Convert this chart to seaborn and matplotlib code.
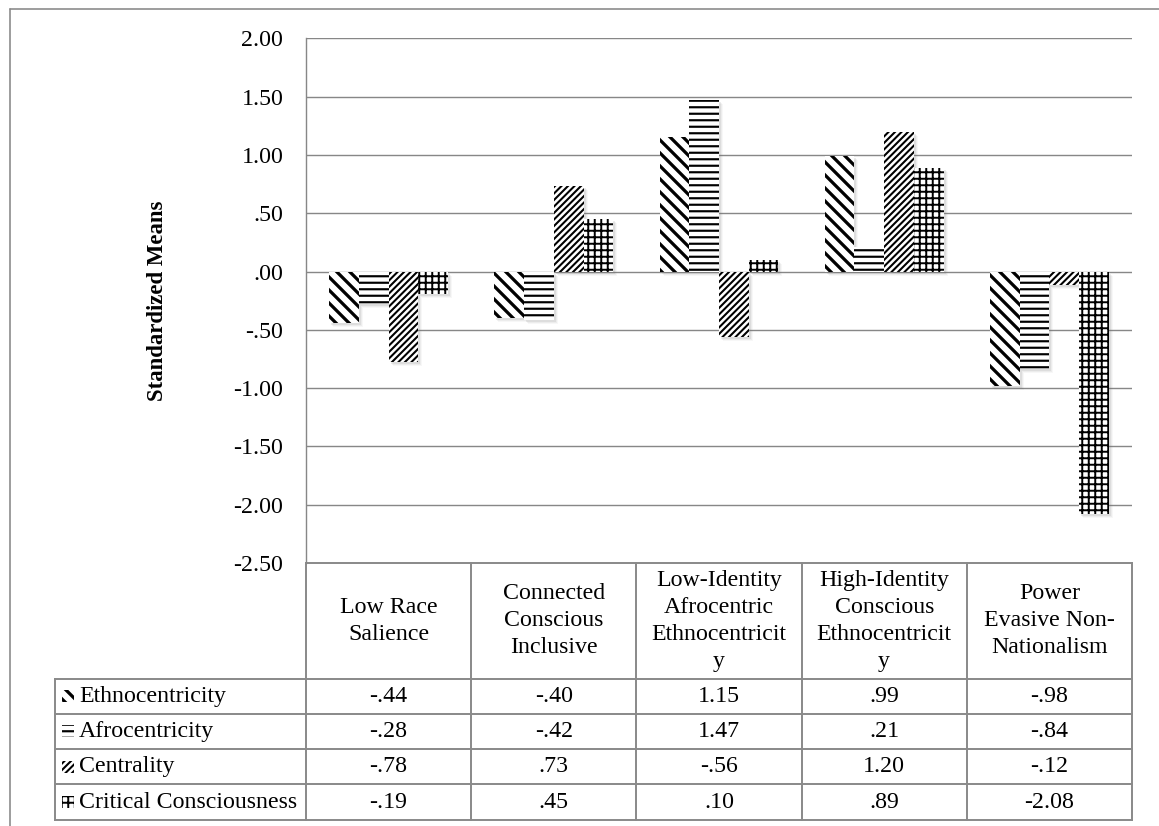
import numpy as np
import pandas as pd
import matplotlib
matplotlib.use("Agg")
import matplotlib.pyplot as plt
import seaborn as sns
from matplotlib.lines import Line2D
from matplotlib.patches import Rectangle
from matplotlib.patheffects import AbstractPathEffect, Normal
from matplotlib.transforms import Affine2D

# ---- data -------------------------------------------------------------
profiles = [
    "Low Race\nSalience",
    "Connected\nConscious\nInclusive",
    "Low-Identity\nAfrocentric\nEthnocentricit\ny",
    "High-Identity\nConscious\nEthnocentricit\ny",
    "Power\nEvasive Non-\nNationalism",
]
series = ["Ethnocentricity", "Afrocentricity", "Centrality", "Critical Consciousness"]
ethnocentricity = [-0.44, -0.40, 1.15, 0.99, -0.98]
afrocentricity = [-0.28, -0.42, 1.47, 0.21, -0.84]
centrality = [-0.78, 0.73, -0.56, 1.20, -0.12]
critical_consciousness = [-0.19, 0.45, 0.10, 0.89, -2.08]
y_ticks = [2.0, 1.5, 1.0, 0.5, 0.0, -0.5, -1.0, -1.5, -2.0, -2.5]
hatches = ["\\\\", "--", "////", "++"]
hatch_widths = [3.0, 2.0, 1.9, 1.8]

values = [ethnocentricity, afrocentricity, centrality, critical_consciousness]
df = pd.concat(
    [pd.DataFrame({"profile": profiles, "series": name, "value": vals})
     for name, vals in zip(series, values)],
    ignore_index=True,
)


def fmt(v):
    s = f"{v:.2f}"
    if abs(v) < 1:
        s = s.replace("0.", ".", 1)
    return s


# ---- figure setup -------------------------------------------------------
W, H, DPI = 1159, 826, 78
FS = 22
GRID = "#878787"
BORDER = "#8a8a8a"

sns.set_theme(style="white")
plt.rcParams["font.family"] = ["Liberation Serif", "DejaVu Serif"]
plt.rcParams["hatch.linewidth"] = 1.9
plt.rcParams["text.color"] = "black"

fig = plt.figure(figsize=(W / DPI, H / DPI), dpi=DPI)
fig.patch.set_facecolor("white")

ax_l, ax_r, ax_t, ax_b = 306, 1132, 38.3, 563
ax = fig.add_axes([ax_l / W, 1 - ax_b / H, (ax_r - ax_l) / W, (ax_b - ax_t) / H])
ax.set_facecolor("white")


class SoftShadow(AbstractPathEffect):
    """Un-hatched grey drop shadow drawn beneath a patch."""

    def __init__(self, layers):
        super().__init__()
        self.layers = layers

    def draw_path(self, renderer, gc, tpath, affine, rgbFace=None):
        for dx, dy, alpha in self.layers:
            gc0 = renderer.new_gc()
            gc0.copy_properties(gc)
            gc0.set_hatch(None)
            gc0.set_linewidth(0)
            gc0.set_alpha(alpha)
            renderer.draw_path(gc0, tpath, affine + Affine2D().translate(dx, dy),
                               (0.45, 0.45, 0.45))
            gc0.restore()


def style_patch(patch, hatch, hw):
    patch.set_hatch(hatch)
    patch.set_facecolor("white")
    patch.set_edgecolor("black")
    patch.set_linewidth(0)
    if hasattr(patch, "set_hatch_linewidth"):
        patch.set_hatch_linewidth(hw)


sns.barplot(
    data=df, x="profile", y="value", hue="series",
    order=profiles, hue_order=series,
    palette=["white"] * len(series), saturation=1,
    edgecolor="black", linewidth=0, width=0.72,
    legend=False, ax=ax,
)

shadow = [SoftShadow([(4, -4, 0.05), (3, -3, 0.08), (2, -2, 0.12)]), Normal()]
for container, hatch, hw in zip(ax.containers, hatches, hatch_widths):
    for bar in container:
        style_patch(bar, hatch, hw)
        bar.set_path_effects(shadow)

ax.set_xlim(-0.5, len(profiles) - 0.5)
ax.set_ylim(-2.5, 2.0)
ax.set_yticks(y_ticks)
ax.set_yticklabels([fmt(v) for v in y_ticks])
ax.yaxis.grid(True, color=GRID, linewidth=1.3)
ax.xaxis.grid(False)
ax.set_axisbelow(True)
for side in ["top", "right", "bottom"]:
    ax.spines[side].set_visible(False)
ax.spines["left"].set_color(GRID)
ax.spines["left"].set_linewidth(1.3)
ax.tick_params(axis="y", length=0, pad=21, labelsize=FS, colors="black")
ax.tick_params(axis="x", length=0, labelbottom=False)
ax.set_xlabel("")
ax.set_ylabel("")
ax.text(-0.18, 0.5, "Standardized Means", transform=ax.transAxes,
        rotation=90, ha="center", va="center", fontsize=FS - 1, fontweight="bold")

# ---- data table beneath the plot ---------------------------------------
ax_w = ax_r - ax_l
ax_h = ax_b - ax_t
n = len(profiles)
legend_left = (55 - ax_l) / ax_w
header_bottom = (ax_b - 678.5) / ax_h
row_h = 35.3 / ax_h
table_bottom = header_bottom - len(series) * row_h

line_kw = dict(transform=ax.transAxes, color=BORDER, linewidth=1.8,
               clip_on=False, solid_capstyle="projecting")

ax.add_line(Line2D([0, 1], [0, 0], **line_kw))
for k in range(len(series) + 1):
    y = header_bottom - k * row_h
    ax.add_line(Line2D([legend_left, 1], [y, y], **line_kw))
ax.add_line(Line2D([legend_left, legend_left], [header_bottom, table_bottom], **line_kw))
for i in range(n + 1):
    ax.add_line(Line2D([i / n, i / n], [0, table_bottom], **line_kw))

for i, name in enumerate(profiles):
    ax.text((i + 0.5) / n, header_bottom / 2, name, transform=ax.transAxes,
            ha="center", va="center", fontsize=FS, linespacing=1.38)

icon_x = (62 - ax_l) / ax_w
icon_w = 12 / ax_w
icon_h = 12 / ax_h
text_x = (79 - ax_l) / ax_w
for r, (name, vals, hatch, hw) in enumerate(zip(series, values, hatches, hatch_widths)):
    yc = header_bottom - (r + 0.5) * row_h
    icon = Rectangle((icon_x, yc - icon_h / 2), icon_w, icon_h,
                     transform=ax.transAxes, clip_on=False)
    style_patch(icon, hatch, hw)
    ax.add_artist(icon)
    ax.text(text_x, yc, name, transform=ax.transAxes, ha="left", va="center",
            fontsize=FS)
    for i, v in enumerate(vals):
        ax.text((i + 0.5) / n, yc, fmt(v), transform=ax.transAxes,
                ha="center", va="center", fontsize=FS)

# ---- outer chart frame --------------------------------------------------
frame_kw = dict(transform=fig.transFigure, color=BORDER, linewidth=1.5)
fig.add_artist(Line2D([10 / W, 1], [1 - 9 / H, 1 - 9 / H], **frame_kw))
fig.add_artist(Line2D([10 / W, 10 / W], [0, 1 - 9 / H], **frame_kw))

fig.savefig("out.png", dpi=DPI, facecolor="white")
